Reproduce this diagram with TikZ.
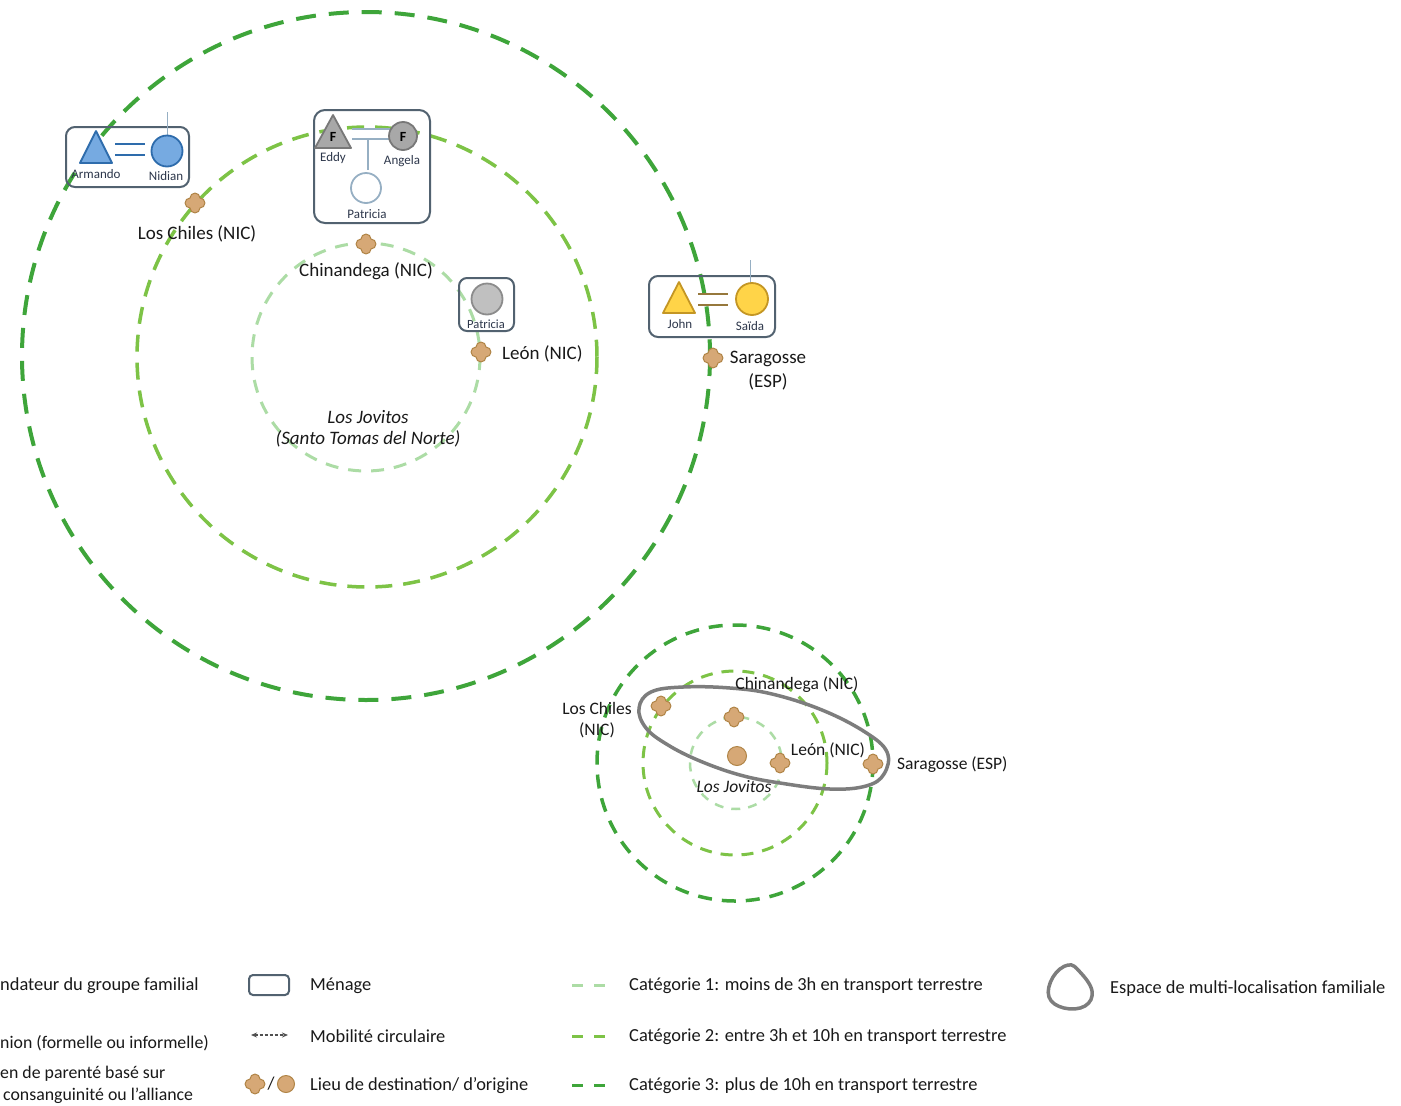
\documentclass[tikz,border=0pt]{standalone}
\usepackage{fontspec}
\setmainfont{Carlito}
\usetikzlibrary{arrows.meta}
\definecolor{cone}{RGB}{172,220,165}
\definecolor{ctwo}{RGB}{125,195,70}
\definecolor{cthree}{RGB}{62,165,58}
\definecolor{boxc}{RGB}{82,98,112}
\definecolor{txt}{RGB}{25,25,25}
\definecolor{smalltxt}{RGB}{45,55,75}
\definecolor{markfill}{RGB}{214,168,118}
\definecolor{markdraw}{RGB}{176,132,70}
\definecolor{bluefill}{RGB}{118,170,225}
\definecolor{bluedraw}{RGB}{46,108,172}
\definecolor{grayfill}{RGB}{168,168,168}
\definecolor{graydraw}{RGB}{120,120,120}
\definecolor{lgrayfill}{RGB}{192,192,192}
\definecolor{lgraydraw}{RGB}{140,140,140}
\definecolor{yelfill}{RGB}{255,212,72}
\definecolor{yeldraw}{RGB}{196,150,36}
\definecolor{linkc}{RGB}{150,175,195}
\definecolor{unionbrown}{RGB}{150,120,60}
\definecolor{loopc}{RGB}{125,125,125}
\definecolor{arrowc}{RGB}{80,80,80}
\tikzset{
  catone/.style={draw=cone, line width=3pt, dash pattern=on 13pt off 10pt},
  cattwo/.style={draw=ctwo, line width=3.5pt, dash pattern=on 17pt off 11pt},
  catthree/.style={draw=cthree, line width=4pt, dash pattern=on 20pt off 13pt},
  scatone/.style={draw=cone, line width=2.5pt, dash pattern=on 9pt off 8pt},
  scattwo/.style={draw=ctwo, line width=3pt, dash pattern=on 12pt off 9pt},
  scatthree/.style={draw=cthree, line width=3.5pt, dash pattern=on 14pt off 10pt},
  hbox/.style={draw=boxc, line width=2pt, rounded corners=9pt, inner sep=0pt},
  lab/.style={text=txt, font=\fontsize{19}{22}\selectfont, inner sep=0pt},
  slab/.style={text=txt, font=\fontsize{17.5}{20}\selectfont, inner sep=0pt},
  hlab/.style={text=smalltxt, font=\fontsize{13}{15}\selectfont, inner sep=0pt},
  leg/.style={text=txt, font=\fontsize{18.4}{21}\selectfont, inner sep=0pt, anchor=west},
  person/.style={circle, line width=1.8pt, inner sep=0pt},
  origin/.style={circle, draw=markdraw, fill=markfill, line width=1pt, minimum size=19pt, inner sep=0pt},
  pics/marker/.style={code={
    \draw[draw=markdraw, fill=markfill, line width=1pt, rotate=45]
      (0,7.07) arc[start angle=134.4, end angle=-44.4, radius=5]
      arc[start angle=44.4, end angle=-134.4, radius=5]
      arc[start angle=-45.6, end angle=-224.4, radius=5]
      arc[start angle=-135.6, end angle=-314.4, radius=5] -- cycle;
  }}
}
\begin{document}
\begin{tikzpicture}[x=1pt,y=-1pt]
\useasboundingbox (0,0) rectangle (1401,1106);
\fill[white] (0,0) rectangle (1401,1106);

% ---------- big diagram: circles ----------
\draw[catthree] (366,356) circle[radius=344];
\draw[cattwo] (367,357) circle[radius=230];
\draw[catone] (366,357) circle[radius=114];

% ---------- household 1: Armando / Nidian ----------
\node[hbox, minimum width=123pt, minimum height=60pt] (hhA) at (127.5,157) {};
\draw[draw=linkc, line width=1pt] (167,136) -- (167,112);
\draw[draw=bluedraw, fill=bluefill, line width=1.8pt, line join=round] (96,131) -- (112,163) -- (80,163) -- cycle;
\node[person, draw=bluedraw, fill=bluefill, minimum size=31pt] (nidian) at (167,151) {};
\draw[bluedraw, line width=2pt] (115,144) -- (145,144) (115,155) -- (145,155);
\node[hlab] (armando) at (96,174) {Armando};
\node[hlab] (nidianL) at (166,176) {Nidian};

% ---------- household 2: Eddy / Angela / Patricia ----------
\node[hbox, rounded corners=11pt, minimum width=116pt, minimum height=113pt] (hhE) at (372,166.5) {};
\draw[linkc, line width=1.8pt] (352,129) -- (390,129) (352,139) -- (390,139);
\coordinate (desc) at (368,139);
\node[person, draw=linkc, fill=white, minimum size=30pt] (patricia) at (366,188) {};
\draw[linkc, line width=1.8pt] (desc) -- (368,170);
\draw[draw=graydraw, fill=grayfill, line width=1.8pt, line join=round] (333,115) -- (351,148) -- (315,148) -- cycle;
\node[font=\bfseries\fontsize{14}{15}\selectfont, text=black, inner sep=0pt] (eddyF) at (333,137) {F};
\node[person, draw=graydraw, fill=grayfill, minimum size=28pt] (angela) at (403,136) {};
\node[font=\bfseries\fontsize{14}{15}\selectfont, text=black, inner sep=0pt] (angelaF) at (403,137) {F};
\node[hlab] (eddyL) at (333,158) {Eddy};
\node[hlab] (angelaL) at (402,161) {Angela};
\node[hlab] (patriciaL) at (367,214) {Patricia};

% ---------- household 3: Patricia ----------
\node[hbox, rounded corners=8pt, minimum width=55pt, minimum height=53pt] (hhP) at (486.5,304.5) {};
\node[person, draw=lgraydraw, fill=lgrayfill, minimum size=31pt] (patricia2) at (487,299) {};
\node[hlab, font=\fontsize{12.5}{14}\selectfont] (patricia2L) at (486,324) {Patricia};

% ---------- household 4: John / Saida ----------
\node[hbox, minimum width=126pt, minimum height=61pt] (hhJ) at (712,306.5) {};
\draw[draw=linkc, line width=1pt] (750,283) -- (750,260);
\draw[draw=yeldraw, fill=yelfill, line width=1.8pt, line join=round] (679,282) -- (695,313) -- (663,313) -- cycle;
\node[person, draw=yeldraw, fill=yelfill, minimum size=32pt] (saida) at (752,299) {};
\draw[unionbrown, line width=2pt] (698,294) -- (728,294) (698,305) -- (728,305);
\node[hlab] (johnL) at (680,324) {John};
\node[hlab] (saidaL) at (750,326) {Saïda};

% ---------- markers & labels (big) ----------
\pic (mLC) at (195,203) {marker};
\pic (mCh) at (366,244) {marker};
\pic (mLe) at (481,352) {marker};
\pic (mSa) at (713,358) {marker};
\node[lab] (lLC) at (197,234) {Los Chiles (NIC)};
\node[lab] (lCh) at (366,271) {Chinandega (NIC)};
\node[lab, anchor=west] (lLe) at (502,354) {León (NIC)};
\node[lab] (lSa1) at (768,359) {Saragosse};
\node[lab] (lSa2) at (768,382) {(ESP)};
\node[lab, font=\itshape\fontsize{19}{22}\selectfont] (lLJ1) at (368,417) {Los Jovitos};
\node[lab, font=\itshape\fontsize{19}{22}\selectfont] (lLJ2) at (368,439) {(Santo Tomas del Norte)};

% ---------- small diagram ----------
\draw[scatthree] (735,763) circle[radius=138];
\draw[scattwo] (735,763) circle[radius=92];
\draw[scatone] (736,763) circle[radius=46];
\draw[loopc, line width=3.5pt] plot[smooth cycle, tension=0.65] coordinates {(639,708) (651,692) (683,687) (730,688) (772,694) (822,710) (865,732) (887,752) (884,774) (866,786) (830,789) (780,783) (740,775) (700,761) (668,745) (646,728)};
\pic (sLC) at (661,706) {marker};
\pic (sCh) at (734,717) {marker};
\pic (sLe) at (780,763) {marker};
\pic (sSa) at (873,764) {marker};
\node[origin] (sLJ) at (737,756) {};
\node[slab] (tCh) at (797,685) {Chinandega (NIC)};
\node[slab] (tLC1) at (597,708) {Los Chiles};
\node[slab] (tLC2) at (597,730) {(NIC)};
\node[slab] (tLe) at (828,750) {León (NIC)};
\node[slab, anchor=west] (tSa) at (897,765) {Saragosse (ESP)};
\node[slab, font=\itshape\fontsize{17.5}{20}\selectfont] (tLJ) at (734,787) {Los Jovitos};

% ---------- legend ----------
\node[leg] (g1) at (0,986) {ndateur du groupe familial};
\node[leg, font=\fontsize{17.8}{21}\selectfont] (g2) at (0,1043) {nion (formelle ou informelle)};
\node[leg, font=\fontsize{17.8}{21}\selectfont] (g3) at (0,1074) {en de parenté basé sur};
\node[leg, font=\fontsize{17.8}{21}\selectfont] (g4) at (3,1096) {consanguinité ou l’alliance};

\node[draw=boxc, line width=2pt, rounded corners=4pt, minimum width=40pt, minimum height=20pt, inner sep=0pt] (kbox) at (269,985) {};
\node[leg] (g5) at (310,986) {Ménage};
\coordinate (ka1) at (251,1035);
\coordinate (ka2) at (288,1035);
\draw[draw=arrowc, line width=1.2pt, dash pattern=on 3pt off 2pt, {Stealth[length=6pt,width=5pt]}-{Stealth[length=6pt,width=5pt]}] (ka1) -- (ka2);
\node[leg] (g6) at (310,1036) {Mobilité circulaire};
\pic (kmark) at (255,1084) {marker};
\node[text=txt, font=\fontsize{18}{21}\selectfont, inner sep=0pt] (kslash) at (271,1084) {/};
\node[origin, minimum size=17pt] (korig) at (286,1084) {};
\node[leg] (g7) at (310,1086) {Lieu de destination/ d’origine};

\draw[cone, line width=3pt] (572,985) -- (583,985) (594,985) -- (605,985);
\draw[ctwo, line width=3pt] (572,1036) -- (583,1036) (594,1036) -- (605,1036);
\draw[cthree, line width=3pt] (572,1085) -- (583,1085) (594,1085) -- (605,1085);
\node[leg] (g8) at (629,986) {Catégorie 1: moins de 3h en transport terrestre};
\node[leg] (g9) at (629,1037) {Catégorie 2: entre 3h et 10h en transport terrestre};
\node[leg] (g10) at (629,1086) {Catégorie 3: plus de 10h en transport terrestre};

\draw[loopc, line width=3.5pt] plot[smooth cycle, tension=0.7] coordinates {(1068,965) (1080,972) (1092,991) (1085,1006) (1064,1008) (1049,997) (1053,977)};
\node[leg] (g11) at (1110,989) {Espace de multi-localisation familiale};
\end{tikzpicture}
\end{document}
